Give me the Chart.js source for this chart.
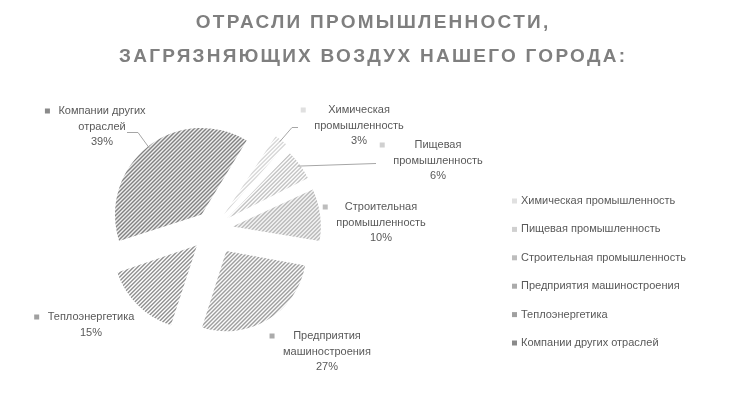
<!DOCTYPE html>
<html><head><meta charset="utf-8">
<script src="https://cdn.jsdelivr.net/npm/chart.js@4.4.1/dist/chart.umd.min.js"></script>
<style>html,body{margin:0;padding:0;background:#fff;overflow:hidden}</style>
</head><body>
<canvas id="c" width="732" height="407" style="width:732px;height:407px;display:block"></canvas>
<script>
// ---- data ----
const titleLines = ['ОТРАСЛИ ПРОМЫШЛЕННОСТИ,', 'ЗАГРЯЗНЯЮЩИХ ВОЗДУХ НАШЕГО ГОРОДА:'];
const categories = ['Химическая промышленность', 'Пищевая промышленность', 'Строительная промышленность', 'Предприятия машиностроения', 'Теплоэнергетика', 'Компании других отраслей'];
const values = [3, 6, 10, 27, 15, 39];
const labelLines = [['Химическая', 'промышленность'], ['Пищевая', 'промышленность'], ['Строительная', 'промышленность'], ['Предприятия', 'машиностроения'], ['Теплоэнергетика'], ['Компании других', 'отраслей']];

// ---- styles ----
const stripeColors = ['#d8d8d8', '#c4c4c4', '#b0b0b0', '#9c9c9c', '#919191', '#737373'];
const keyColors = ['#e0e0e0', '#d0d0d0', '#bdbdbd', '#ababab', '#a0a0a0', '#8a8a8a'];
const explode = [32, 28, 28, 26, 27, 25];   // desired radial displacement in px
const textColor = '#595959';
const labelFont = '11px "Liberation Sans", Arial, sans-serif';

// Chart.js v4 arc draws with translation = offset/4 * (1 + (1 - sin(min(PI, circumference))))
const total = values.reduce((a, b) => a + b, 0);
const arcOffsets = values.map((v, i) => {
  const circ = v / total * Math.PI * 2;
  const fix = 1 - Math.sin(Math.min(Math.PI, circ));
  return 4 * explode[i] / (1 + fix);
});

function hatch(color) {
  const c = document.createElement('canvas');
  c.width = 4; c.height = 4;
  const g = c.getContext('2d');
  g.fillStyle = '#ffffff'; g.fillRect(0, 0, 4, 4);
  g.fillStyle = color;
  for (let x = 0; x < 4; x++) for (let y = 0; y < 4; y++) {
    const m = (x + y) % 4;
    if (m === 3 || m === 0) g.fillRect(x, y, 1, 1);
  }
  return g.createPattern(c, 'repeat');
}

// label placement (center x, first-line y) and leader lines (label side points)
const labelLayout = [
  { cx: 359, y: 110, leader: [[298, 127], [292, 127]] },
  { cx: 438, y: 145, leader: [[376, 163]] },
  { cx: 381, y: 207, leader: null },
  { cx: 327, y: 336, leader: null },
  { cx: 91, y: 317, leader: null },
  { cx: 102, y: 111, leader: [[127, 132], [138, 132]] }
];
const lineH = 15.5;

const decor = {
  id: 'decor',
  afterDraw(chart) {
    const ctx = chart.ctx;
    const meta = chart.getDatasetMeta(0);
    ctx.save();
    // title
    ctx.fillStyle = '#7f7f7f';
    ctx.font = 'bold 19px "Liberation Sans", Arial, sans-serif';
    ctx.textBaseline = 'middle';
    ctx.textAlign = 'left';
    const targetW = 506;
    ctx.letterSpacing = '0px';
    const w2 = ctx.measureText(titleLines[1]).width;
    const ls = (targetW - w2) / (titleLines[1].length - 1);
    ctx.letterSpacing = ls + 'px';
    const ty = [23, 57];
    titleLines.forEach((t, i) => {
      const w = ctx.measureText(t).width - ls;
      ctx.fillText(t, 372 - w / 2, ty[i]);
    });
    ctx.letterSpacing = '0px';

    // data labels
    ctx.font = labelFont;
    meta.data.forEach((arc, i) => {
      const p = arc.getProps(['x', 'y', 'startAngle', 'endAngle', 'outerRadius'], true);
      const mid = (p.startAngle + p.endAngle) / 2;
      const off = explode[i];
      const ex = p.x + Math.cos(mid) * (off + p.outerRadius - 2);
      const ey = p.y + Math.sin(mid) * (off + p.outerRadius - 2);
      const L = labelLayout[i];
      const lines = labelLines[i].concat([Math.round(values[i] / total * 100) + '%']);
      ctx.fillStyle = textColor;
      ctx.textAlign = 'center';
      ctx.textBaseline = 'middle';
      let maxW = 0;
      lines.forEach((s, k) => {
        maxW = Math.max(maxW, ctx.measureText(s).width);
        ctx.fillText(s, L.cx, L.y + k * lineH);
      });
      // key
      ctx.fillStyle = keyColors[i];
      const kx = L.cx - maxW / 2 - 11;
      ctx.fillRect(kx - 2.5, L.y - 2.5, 5, 5);
      // leader
      if (L.leader) {
        ctx.strokeStyle = '#a6a6a6';
        ctx.lineWidth = 1;
        ctx.beginPath();
        ctx.moveTo(L.leader[0][0], L.leader[0][1] + 0.5);
        for (let k = 1; k < L.leader.length; k++) ctx.lineTo(L.leader[k][0], L.leader[k][1] + 0.5);
        ctx.lineTo(ex, ey);
        ctx.stroke();
      }
    });

    // legend
    ctx.textAlign = 'left';
    ctx.textBaseline = 'middle';
    categories.forEach((c, i) => {
      const y = 201 + i * 28.4;
      ctx.fillStyle = keyColors[i];
      ctx.fillRect(512, y - 2.5, 5, 5);
      ctx.fillStyle = textColor;
      ctx.fillText(c, 521, y);
    });
    ctx.restore();
  }
};

const ctx = document.getElementById('c').getContext('2d');
new Chart(ctx, {
  type: 'pie',
  data: {
    labels: categories,
    datasets: [{
      data: values,
      backgroundColor: stripeColors.map(hatch),
      borderWidth: 0,
      offset: arcOffsets
    }]
  },
  options: {
    responsive: false,
    animation: false,
    devicePixelRatio: 1,
    rotation: 32,
    radius: 80,
    layout: { padding: { left: 0, right: 306, top: 96, bottom: 45 } },
    plugins: { legend: { display: false }, tooltip: { enabled: false }, title: { display: false } }
  },
  plugins: [decor]
});
</script>
</body></html>
